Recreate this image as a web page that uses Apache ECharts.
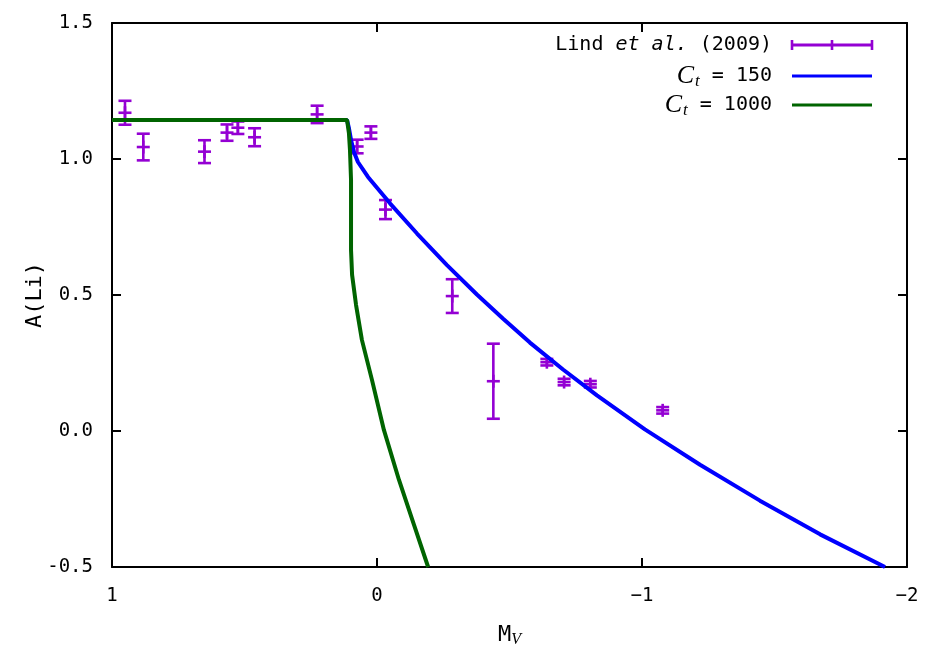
<!DOCTYPE html>
<html>
<head>
<meta charset="utf-8">
<script src="https://cdn.jsdelivr.net/npm/echarts@6/dist/echarts.min.js"></script>
<style>
  html, body { margin: 0; padding: 0; background: #ffffff; }
  #chart { width: 925px; height: 653px; }
</style>
</head>
<body>
<div id="chart"></div>
<script>
// Lind et al. (2009): absolute magnitude, lithium abundance, 1-sigma error
const lindMv  = [0.951, 0.882, 0.651, 0.566, 0.525, 0.462, 0.226, 0.075, 0.023, -0.032, -0.284, -0.439, -0.641, -0.706, -0.805, -1.078];
const lindALi = [1.170, 1.044, 1.027, 1.097, 1.115, 1.080, 1.164, 1.046, 1.097, 0.814, 0.496, 0.183, 0.253, 0.180, 0.172, 0.076];
const lindErr = [0.044, 0.049, 0.042, 0.030, 0.023, 0.033, 0.032, 0.025, 0.023, 0.035, 0.062, 0.138, 0.012, 0.012, 0.012, 0.012];

// Model track, C_t = 150
const ct150Mv  = [1.0, 0.113, 0.106, 0.098, 0.087, 0.072, 0.034, -0.049, -0.151, -0.264, -0.377, -0.476, -0.577, -0.702, -0.830, -1.011, -1.219, -1.445, -1.672, -1.917];
const ct150ALi = [1.143, 1.143, 1.114, 1.070, 1.026, 0.989, 0.934, 0.837, 0.726, 0.610, 0.502, 0.413, 0.325, 0.226, 0.131, 0.006, -0.124, -0.256, -0.380, -0.500];

// Model track, C_t = 1000
const ct1000Mv  = [1.0, 0.113, 0.106, 0.102, 0.098, 0.098, 0.098, 0.094, 0.079, 0.057, 0.019, -0.026, -0.083, -0.140, -0.193];
const ct1000ALi = [1.143, 1.143, 1.096, 1.033, 0.923, 0.794, 0.665, 0.574, 0.463, 0.335, 0.188, 0.004, -0.180, -0.346, -0.500];

// Axis ranges and tick spacing
const xRange = [-2, 1];
const xStep = 1;
const yRange = [-0.5, 1.5];
const yStep = 0.5;

const VIOLET = '#9400D3';
const BLUE = '#0000FF';
const GREEN = '#006400';
const FONT = 'DejaVu Sans Mono';

const zip = (a, b, c) => a.map((v, i) => c ? [v, b[i], c[i]] : [v, b[i]]);

const fmtX = v => (v < 0 ? '\u2212' + Math.abs(v) : String(v));
const fmtY = v => v.toFixed(1);

const axisLineStyle = { color: '#000', width: 2 };
const tickStyle = { show: true, inside: true, length: 9, lineStyle: { color: '#000', width: 2 } };

function xAxisDef(position, showLabel) {
  return {
    type: 'value', position, min: xRange[0], max: xRange[1], interval: xStep, inverse: true,
    axisLine: { show: true, onZero: false, lineStyle: axisLineStyle },
    axisTick: tickStyle,
    splitLine: { show: false },
    axisLabel: { show: showLabel, formatter: fmtX, color: '#000', fontFamily: FONT, fontSize: 19, margin: 20 }
  };
}
function yAxisDef(position, showLabel) {
  return {
    type: 'value', position, min: yRange[0], max: yRange[1], interval: yStep,
    axisLine: { show: true, onZero: false, lineStyle: axisLineStyle },
    axisTick: tickStyle,
    splitLine: { show: false },
    axisLabel: { show: showLabel, formatter: fmtY, color: '#000', fontFamily: FONT, fontSize: 19, margin: 19 }
  };
}

const xMain = xAxisDef('bottom', true);
xMain.name = '{m|M}{v|V}';
xMain.nameLocation = 'middle';
xMain.nameGap = 55;
xMain.nameMoveOverlap = false;
xMain.nameTextStyle = {
  rich: {
    m: { fontFamily: FONT, fontSize: 22, color: '#000' },
    v: { fontFamily: 'Liberation Serif', fontStyle: 'italic', fontSize: 16, color: '#000', padding: [10, 0, 0, 0] }
  }
};
const yMain = yAxisDef('left', true);
yMain.name = 'A(Li)';
yMain.nameLocation = 'middle';
yMain.nameGap = 66;
yMain.nameMoveOverlap = false;
yMain.nameTextStyle = { fontFamily: FONT, fontSize: 22, color: '#000' };

// Error bar with end caps and a "+" point marker
function renderErrorBar(params, api) {
  const x = api.value(0), y = api.value(1), e = api.value(2);
  const c = api.coord([x, y]);
  const lo = api.coord([x, y - e]);
  const hi = api.coord([x, y + e]);
  const w = 6.5;
  const st = { stroke: VIOLET, lineWidth: 2.6 };
  const seg = (x1, y1, x2, y2) => ({ type: 'line', shape: { x1, y1, x2, y2 }, style: st });
  return {
    type: 'group',
    children: [
      seg(lo[0], lo[1], hi[0], hi[1]),
      seg(lo[0] - w, lo[1], lo[0] + w, lo[1]),
      seg(hi[0] - w, hi[1], hi[0] + w, hi[1]),
      seg(c[0] - w, c[1], c[0] + w, c[1]),
      seg(c[0], c[1] - w, c[0], c[1] + w)
    ]
  };
}

// Key, drawn in the upper right corner
const legendRight = 772;
const sampleX1 = 792, sampleX2 = 872;
const rows = [45, 76, 105];
const keyText = (y, text) => ({
  type: 'text', x: legendRight, y,
  style: {
    text, align: 'right', verticalAlign: 'middle', fill: '#000',
    font: '20px "' + FONT + '"',
    rich: {
      n: { fontFamily: FONT, fontSize: 20, fill: '#000' },
      i: { fontFamily: FONT, fontStyle: 'italic', fontSize: 20, fill: '#000' },
      c: { fontFamily: 'Liberation Serif', fontStyle: 'italic', fontSize: 26, fill: '#000' },
      t: { fontFamily: 'Liberation Serif', fontStyle: 'italic', fontSize: 17, fill: '#000', padding: [12, 0, 0, 1] }
    }
  }
});
const keyLine = (y, color) => ({
  type: 'line', shape: { x1: sampleX1, y1: y, x2: sampleX2, y2: y },
  style: { stroke: color, lineWidth: 3 }
});
const keyTick = (x, y) => ({
  type: 'line', shape: { x1: x, y1: y - 5, x2: x, y2: y + 5 },
  style: { stroke: VIOLET, lineWidth: 2.6 }
});

const option = {
  animation: false,
  backgroundColor: '#ffffff',
  grid: { left: 112, right: 18, top: 23, bottom: 86, containLabel: false },
  xAxis: [xMain, xAxisDef('top', false)],
  yAxis: [yMain, yAxisDef('right', false)],
  series: [
    {
      name: 'Lind et al. (2009)', type: 'custom', clip: true,
      renderItem: renderErrorBar,
      data: zip(lindMv, lindALi, lindErr),
      encode: { x: 0, y: 1 }
    },
    {
      name: 'Ct = 150', type: 'line', data: zip(ct150Mv, ct150ALi),
      showSymbol: false, clip: true,
      lineStyle: { color: BLUE, width: 4 }
    },
    {
      name: 'Ct = 1000', type: 'line', data: zip(ct1000Mv, ct1000ALi),
      showSymbol: false, clip: true,
      lineStyle: { color: GREEN, width: 4 }
    }
  ],
  graphic: [
    keyText(rows[0], '{n|Lind }{i|et al.}{n| (2009)}'),
    keyText(rows[1], '{c|C}{t|t}{n| = 150}'),
    keyText(rows[2], '{c|C}{t|t}{n| = 1000}'),
    keyLine(rows[0], VIOLET),
    keyTick(sampleX1, rows[0]),
    keyTick((sampleX1 + sampleX2) / 2, rows[0]),
    keyTick(sampleX2, rows[0]),
    keyLine(rows[1], BLUE),
    keyLine(rows[2], GREEN)
  ]
};

const chart = echarts.init(document.getElementById('chart'), null, { renderer: 'canvas' });
chart.setOption(option);
</script>
</body>
</html>
